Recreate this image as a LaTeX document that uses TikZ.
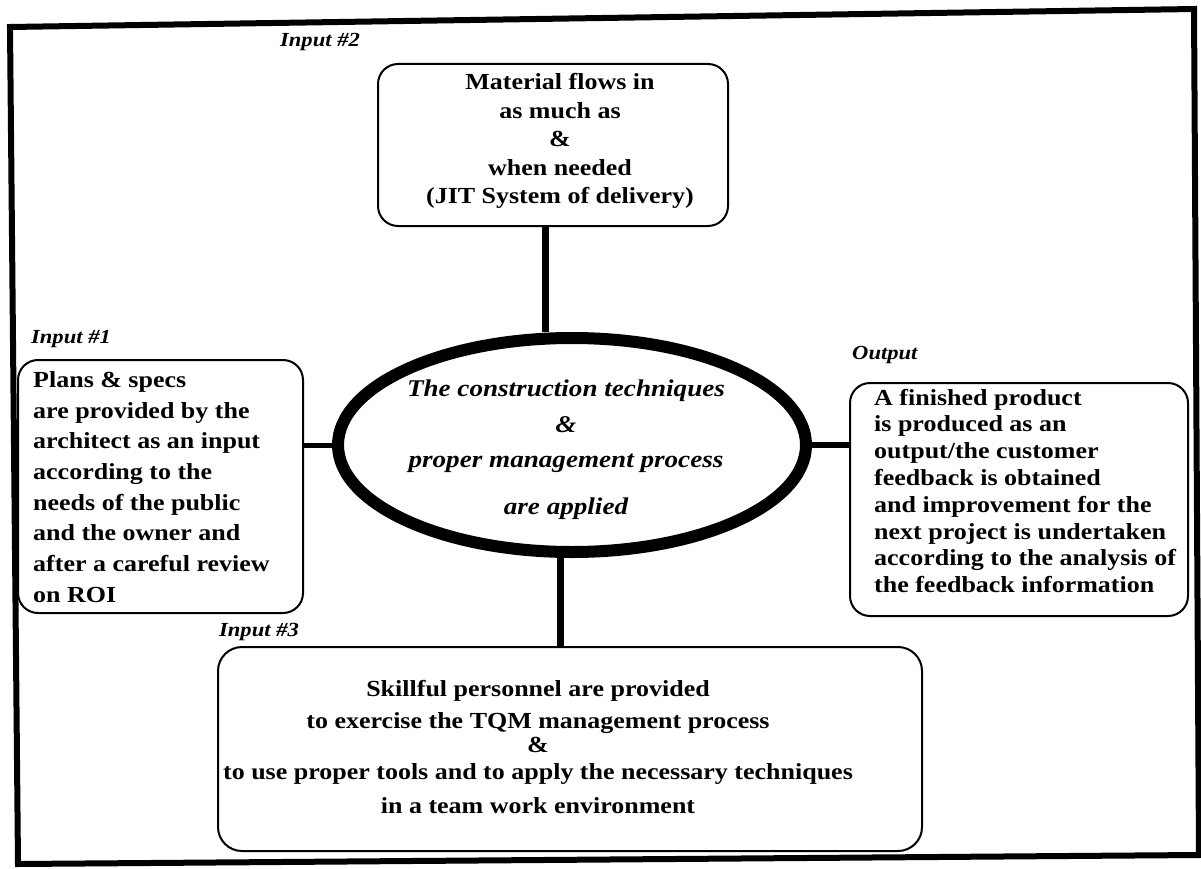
\documentclass[tikz,border=0pt]{standalone}
\usepackage{fontspec}
\setmainfont[FakeStretch=1.13]{Liberation Serif}
\usetikzlibrary{shapes.geometric}
\begin{document}
\begin{tikzpicture}[x=1pt,y=-1pt,
  box/.style={draw, line width=2pt, rounded corners=20pt, inner sep=0pt},
  bodytext/.style={inner sep=0pt, font=\fontsize{23}{28.5}\selectfont\bfseries},
  tag/.style={inner sep=0pt, font=\fontsize{20}{24}\selectfont\bfseries\itshape},
  conn/.style={line width=7pt},
]
\useasboundingbox (0,0) rectangle (1201,869);

% outer frame
\draw[line width=6pt, line join=miter] (10,27) -- (1194,9) -- (1199,855) -- (18,864) -- cycle;

% boxes
\node[box, minimum width=350pt, minimum height=162pt] (supply) at (553,145) {};
\node[box, minimum width=285pt, minimum height=253pt] (plans) at (160.5,486.5) {};
\node[box, minimum width=338pt, minimum height=233pt] (result) at (1019,499.5) {};
\node[box, minimum width=704pt, minimum height=204pt, rounded corners=24pt] (staff) at (570,749) {};

% central process
\node[draw, ellipse, line width=12pt, minimum width=468pt, minimum height=214pt,
      inner sep=0pt, fill=white] (core) at (572,445) {};

% connectors
\draw[conn] ([xshift=-27pt]core.north) -- ([xshift=-27pt]core.north |- supply.south);
\draw[line width=5pt] (core.west) -- (core.west -| plans.east);
\draw[line width=6pt] (core.east) -- (core.east -| result.west);
\draw[conn] ([xshift=-12pt]core.south) -- ([xshift=-12pt]core.south |- staff.north);

% tags
\node[tag] (tag2) at (320,42) {Input \#2};
\node[tag] (tag1) at (71,339) {Input \#1};
\node[tag] (tag3) at (259,632) {Input \#3};
\node[tag, anchor=west] (tagout) at (852,355) {Output};

% box texts
\node[bodytext, align=center] (supplytxt) at (560,141)
  {Material flows in\\ as much as\\ \&\\ when needed\\ (JIT System of delivery)};

\node[bodytext, align=left, anchor=west, font=\fontsize{23}{30.7}\selectfont\bfseries] (planstxt) at (33,487)
  {Plans \& specs\\ are provided by the\\ architect as an input\\ according to the\\
   needs of the public\\ and the owner and\\ after a careful review\\ on ROI};

\node[bodytext, align=left, anchor=west, font=\fontsize{23}{26.8}\selectfont\bfseries] (resulttxt) at (874,491)
  {A finished product\\ is produced as an\\ output/the customer\\ feedback is obtained\\
   and improvement for the\\ next project is undertaken\\ according to the analysis of\\ the feedback information};

\node[bodytext, align=center] (stafftxt) at (538,747)
  {Skillful personnel are provided\\[4pt] to exercise the TQM management process\\[-5pt] \&\\[-1pt]
   to use proper tools and to apply the necessary techniques\\[5pt] in a team work environment};

\node[inner sep=0pt, align=center, font=\fontsize{24}{29}\selectfont\bfseries\itshape] (coretxt) at (566,450)
  {The construction techniques\\[7pt] \&\\[6pt] proper management process\\[18pt] are applied};

\end{tikzpicture}
\end{document}
